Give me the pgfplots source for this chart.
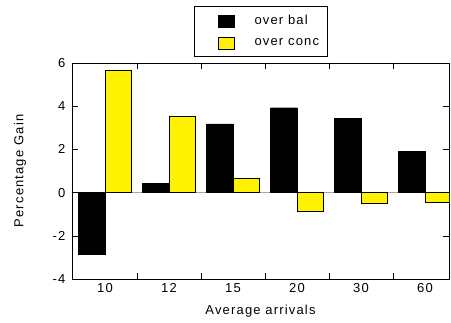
\documentclass[border=0pt]{standalone}
\usepackage{pgfplots}
\pgfplotsset{compat=1.18}
\usepackage{fontspec}
\setmainfont[LetterSpace=9]{Liberation Sans}
\definecolor{baryellow}{RGB}{255,242,0}
\pgfplotsset{
  mylegend/.style={legend image code/.code={%
    \path (-18pt,0pt) (34pt,0pt);
    \draw[##1, line width=0.6pt] (0pt,-6pt) rectangle (16pt,6pt);}},
}
\begin{document}
\fontsize{13}{15}\selectfont
\begin{tikzpicture}
\begin{axis}[
  scale only axis, width=377pt, height=216pt,
  xmin=-0.516, xmax=5.375, ymin=-4, ymax=6,
  ytick={-4,-2,0,2,4,6},
  xtick={0.5,1.5,2.5,3.5,4.5}, xticklabels={},
  extra x ticks={0,1,2,3,4,5},
  extra x tick labels={10,12,15,20,30,60},
  extra x tick style={major tick length=0pt},
  extra y ticks={0}, extra y tick labels={},
  extra y tick style={grid=major, major grid style={gray!70, line width=0.6pt}},
  tick align=inside, major tick length=6pt,
  tick style={black, line width=0.6pt},
  axis line style={black, line width=0.8pt},
  /pgf/number format/assume math mode=true,
  ticklabel style={font=\fontsize{13}{15}\selectfont},
  yticklabel style={xshift=-2pt},
  xlabel={Average arrivals},
  ylabel={Percentage Gain},
  label style={font=\fontsize{13}{15}\selectfont},
  xlabel style={at={(axis description cs:0.5,-0.151)}, anchor=center},
  ylabel style={at={(axis description cs:-0.138,0.5)}, anchor=center},
  legend style={at={(0.5,1)}, yshift=6pt, anchor=south, draw=black,
    line width=0.6pt, font=\fontsize{13}{15}\selectfont,
    row sep=8pt, inner xsep=6pt, inner ysep=7pt},
  legend cell align=left,
]
\addplot[ybar, bar width=0.414, bar shift=-0.207, fill=black, draw=black, mylegend]
  coordinates {(0,-2.84) (1,0.43) (2,3.18) (3,3.93) (4,3.44) (5,1.90)};
\addlegendentry{over bal}
\addplot[ybar, bar width=0.414, bar shift=0.207, fill=baryellow, draw=black, line width=0.6pt, mylegend]
  coordinates {(0,5.65) (1,3.53) (2,0.68) (3,-0.85) (4,-0.48) (5,-0.43)};
\addlegendentry{over conc}
\end{axis}
\pgfresetboundingbox
\useasboundingbox ([xshift=-72pt,yshift=-43pt]current axis.south west) rectangle ([xshift=2pt,yshift=63pt]current axis.north east);
\end{tikzpicture}
\end{document}
